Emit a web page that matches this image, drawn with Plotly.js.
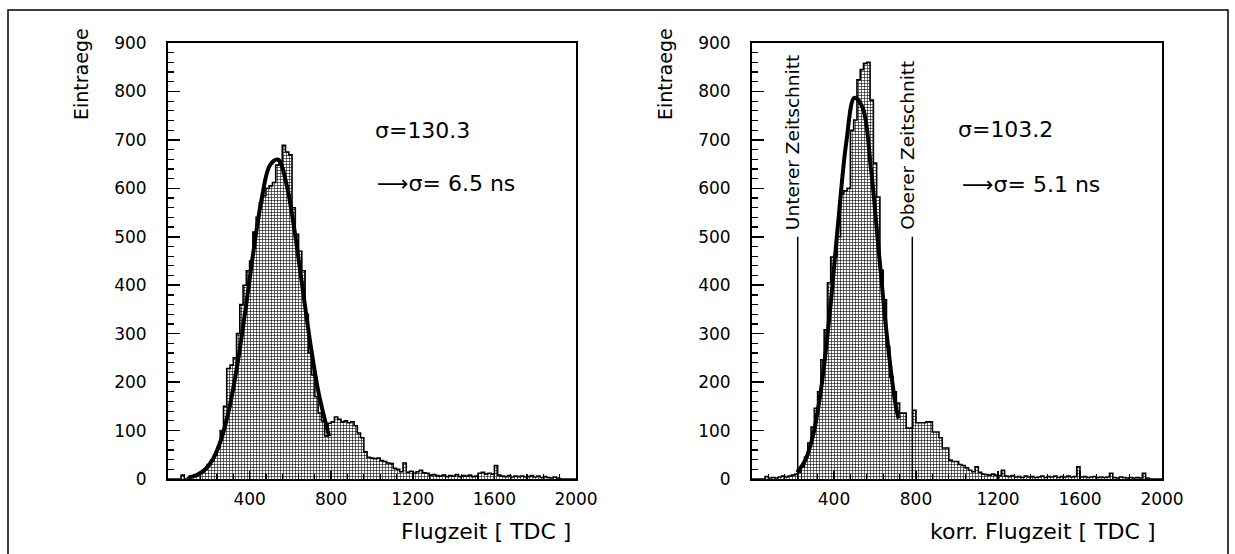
<!DOCTYPE html>
<html><head><meta charset="utf-8">
<script src="https://cdn.plot.ly/plotly-3.0.1.min.js"></script>
<style>html,body{margin:0;padding:0;background:#fff}#chart{width:1235px;height:554px}</style>
</head><body><div id="chart"></div>
<script>
// ---- data ----
const binWidth = 16;           // TDC channels per histogram bin, bins start at 0
const leftCounts = [
  0,0,0,0,8,0,3,5,8,10,
  14,20,30,38,50,65,100,150,228,235,
  250,300,360,400,430,450,510,540,570,585,
  600,605,612,648,655,689,675,669,560,505,
  470,430,340,260,215,170,136,120,89,115,
  118,128,123,118,120,116,118,110,95,85,
  56,45,43,42,43,38,36,33,32,22,
  20,15,33,14,16,12,15,18,13,12,
  8,9,7,6,8,5,7,6,9,5,
  7,6,8,5,6,12,14,10,12,10,
  28,8,6,5,7,4,6,5,6,4,
  5,7,4,6,3,5,3,2,4,2,
  0,0,0,0,0
];
const rightCounts = [
  0,0,0,0,5,2,3,2,4,6,
  4,6,8,10,14,25,45,74,107,146,
  180,246,308,405,458,460,500,590,595,600,
  720,741,824,845,858,860,782,652,582,431,
  370,273,211,180,157,136,136,105,105,142,
  116,116,116,118,118,97,97,85,64,64,
  39,36,36,30,28,23,18,15,25,14,
  10,9,8,10,8,7,18,6,5,7,
  4,5,3,6,4,5,3,4,6,3,
  5,4,6,3,5,4,6,4,5,25,
  4,5,3,4,5,3,4,3,4,12,
  3,2,4,3,2,3,2,3,2,12,
  2,0,0,0,0
];
const leftFitX  = [100,140,180,220,260,300,340,380,420,460,500,540,580,620,660,700,740,790];
const leftFitY  = [3,8,19,41,81,145,236,350,473,580,648,659,610,513,393,274,174,88];
const rightFitX = [220,260,300,340,380,420,460,500,540,580,620,660,700,715];
const rightFitY = [14,39,94,195,345,528,695,787,766,642,463,288,154,125];
const xTickVals = [400,800,1200,1600,2000];
const yTickVals = [0,100,200,300,400,500,600,700,800,900];
const cutLower = 223, cutUpper = 782, cutTop = 500;
const yTitle = "Eintraege";
const xTitleLeft = "Flugzeit [ TDC ]";
const xTitleRight = "korr. Flugzeit [ TDC ]";
const leftSigma = ["σ=130.3", "⟶σ= 6.5 ns"];
const rightSigma = ["σ=103.2", "⟶σ= 5.1 ns"];
const cutLabels = ["Unterer Zeitschnitt", "Oberer Zeitschnitt"];

// ---- helpers ----
const W = 1235, H = 554;
const px = v => v / W, py = v => 1 - v / H;
function steps(counts){
  const xs = [], ys = [];
  counts.forEach((c,i)=>{ xs.push(i*binWidth); ys.push(c); });
  xs.push(counts.length*binWidth); ys.push(counts[counts.length-1]);
  return {xs, ys};
}
const FONT = "DejaVu Sans, Arial, sans-serif";
const pattern = {shape:'+', size:3, solidity:0.35, fgcolor:'#000', bgcolor:'#fff'};
function histTrace(counts, xa, ya){
  const s = steps(counts);
  return {type:'scatter', mode:'lines', x:s.xs, y:s.ys, xaxis:xa, yaxis:ya,
    line:{shape:'hv', color:'#000', width:1.6}, fill:'tozeroy',
    fillcolor:'rgba(255,255,255,0)', fillpattern:pattern, hoverinfo:'skip'};
}
function fitTrace(x, y, xa, ya){
  return {type:'scatter', mode:'lines', x:x, y:y, xaxis:xa, yaxis:ya,
    line:{shape:'spline', smoothing:1, color:'#000', width:4}, hoverinfo:'skip'};
}
const traces = [
  histTrace(leftCounts,'x','y'), fitTrace(leftFitX,leftFitY,'x','y'),
  histTrace(rightCounts,'x2','y2'), fitTrace(rightFitX,rightFitY,'x2','y2')
];
function xAxis(domain, anchor){
  return {domain:domain, anchor:anchor, range:[0,2000], tickvals:xTickVals, ticktext:xTickVals.map(String),
    ticks:'inside', ticklen:8, tickwidth:1.5, tickcolor:'#000',
    minor:{tick0:0, dtick:80, ticks:'inside', ticklen:5, tickwidth:1.2, tickcolor:'#000'},
    showline:true, linewidth:2, linecolor:'#000', mirror:true, showgrid:false, zeroline:false,
    ticklabelstandoff:4, tickfont:{family:FONT, size:17, color:'#000'}};
}
function yAxis(anchor){
  return {domain:[1-479/H, 1-43/H], anchor:anchor, range:[0,900], tickvals:yTickVals,
    ticks:'inside', ticklen:12, tickwidth:1.5, tickcolor:'#000',
    minor:{tick0:0, dtick:20, ticks:'inside', ticklen:6, tickwidth:1.2, tickcolor:'#000'},
    showline:true, linewidth:2, linecolor:'#000', mirror:true, showgrid:false, zeroline:false,
    ticklabelstandoff:16, tickfont:{family:FONT, size:17, color:'#000'}};
}
function ann(text, x, y, opts){
  return Object.assign({text:text, xref:'paper', yref:'paper', x:px(x), y:py(y), showarrow:false,
    xanchor:'center', yanchor:'middle', borderpad:0,
    font:{family:FONT, size:19, color:'#000'}}, opts||{});
}
const sigFont = {family:FONT, size:22, color:'#000'};
const titleFont = {family:FONT, size:22, color:'#000'};
const annotations = [
  ann(yTitle, 81, 74, {textangle:-90}),
  ann(yTitle, 665, 74, {textangle:-90}),
  ann(xTitleLeft, 572, 531, {xanchor:'right', font:titleFont}),
  ann(xTitleRight, 1156, 531, {xanchor:'right', font:titleFont}),
  ann(leftSigma[0], 374, 130, {xanchor:'left', font:sigFont}),
  ann(leftSigma[1], 376, 183, {xanchor:'left', font:sigFont}),
  ann(rightSigma[0], 957, 129, {xanchor:'left', font:sigFont}),
  ann(rightSigma[1], 961, 184, {xanchor:'left', font:sigFont}),
  {text:cutLabels[0], xref:'x2', yref:'y2', x:cutLower, y:cutTop+10, xanchor:'center', yanchor:'bottom',
   xshift:-5, textangle:-90, showarrow:false, font:{family:FONT, size:18.5, color:'#000'}},
  {text:cutLabels[1], xref:'x2', yref:'y2', x:cutUpper, y:cutTop+10, xanchor:'center', yanchor:'bottom',
   xshift:-5, textangle:-90, showarrow:false, font:{family:FONT, size:18.5, color:'#000'}}
];
const shapes = [
  {type:'line', xref:'x2', yref:'y2', x0:cutLower, x1:cutLower, y0:0, y1:cutTop, line:{color:'#000', width:1.5}},
  {type:'line', xref:'x2', yref:'y2', x0:cutUpper, x1:cutUpper, y0:0, y1:cutTop, line:{color:'#000', width:1.5}},
  {type:'rect', xref:'paper', yref:'paper', x0:px(8), x1:px(1228), y0:py(562), y1:py(10), line:{color:'#000', width:1.5}}
];
const layout = {
  width:W, height:H, margin:{l:0, r:0, t:0, b:0}, showlegend:false,
  paper_bgcolor:'#fff', plot_bgcolor:'rgba(0,0,0,0)',
  xaxis:xAxis([168/W, 576/W], 'y'), yaxis:yAxis('x'),
  xaxis2:xAxis([752/W, 1162/W], 'y2'), yaxis2:yAxis('x2'),
  annotations:annotations, shapes:shapes
};
Plotly.newPlot('chart', traces, layout, {staticPlot:true, displayModeBar:false});
</script></body></html>
